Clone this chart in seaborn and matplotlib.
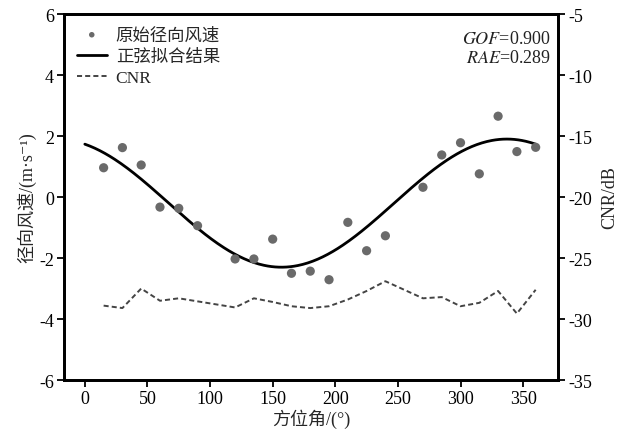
import numpy as np
import pandas as pd
import matplotlib
matplotlib.use("Agg")
import matplotlib.pyplot as plt
import seaborn as sns

# ---- data ----
azimuth = [15, 30, 45, 60, 75, 90, 120, 135, 150, 165, 180, 195, 210, 225, 240,
           270, 285, 300, 315, 330, 345, 360]
radial_speed = [0.96, 1.62, 1.05, -0.33, -0.37, -0.94, -2.03, -2.03, -1.38, -2.50,
                -2.43, -2.71, -0.83, -1.76, -1.27, 0.32, 1.38, 1.78, 0.76, 2.65,
                1.49, 1.63]
cnr = [-28.9, -29.1, -27.5, -28.5, -28.3, -28.55, -29.05, -28.3, -28.6, -28.95,
       -29.1, -28.95, -28.4, -27.7, -26.9, -28.3, -28.2, -28.95, -28.67, -27.7,
       -29.55, -27.6]
# sine-fit result: amplitude, azimuth of maximum, offset
fit_amplitude = 2.1
fit_peak_azimuth = 337.0
fit_offset = -0.2
gof_text = "0.900"
rae_text = "0.289"
x_ticks = [0, 50, 100, 150, 200, 250, 300, 350]
y_ticks = [-6, -4, -2, 0, 2, 4, 6]
cnr_ticks = [-35, -30, -25, -20, -15, -10, -5]

fit_x = np.linspace(0, 360, 361)
fit_y = fit_amplitude * np.cos(np.deg2rad(fit_x - fit_peak_azimuth)) + fit_offset

df = pd.DataFrame({"az": azimuth, "v": radial_speed, "cnr": cnr})
fit_df = pd.DataFrame({"az": fit_x, "v": fit_y})

sns.set_theme(style="white")
plt.rcParams["font.family"] = ["Liberation Serif", "Noto Sans CJK SC", "DejaVu Sans"]
plt.rcParams["mathtext.fontset"] = "stix"
plt.rcParams["axes.unicode_minus"] = False

fig = plt.figure(figsize=(6.23, 4.35), dpi=100)
ax = fig.add_axes([0.102, 0.124, 0.794, 0.8415])
ax2 = ax.twinx()

dash = (0, (2.6, 1.6))
sns.scatterplot(data=df, x="az", y="v", ax=ax, color="#6a6a6a", s=44,
                edgecolor="none", label="原始径向风速", zorder=3)
sns.lineplot(data=fit_df, x="az", y="v", ax=ax, color="black", lw=2,
             label="正弦拟合结果")
sns.lineplot(data=df, x="az", y="cnr", ax=ax2, color="#444444", lw=1.4,
             linestyle=dash, legend=False)
ax.plot([], [], color="#444444", lw=1.4, linestyle=dash, label="CNR")

ax.set_xlim(-17, 378)
ax.set_ylim(-6, 6)
ax2.set_ylim(-35, -5)
ax.set_xticks(x_ticks)
ax.set_yticks(y_ticks)
ax2.set_yticks(cnr_ticks)

for a in (ax, ax2):
    a.tick_params(direction="out", length=5, width=1.3, labelsize=13,
                  colors="black", pad=2)
    for sp in a.spines.values():
        sp.set_linewidth(2)
        sp.set_color("black")
ax.tick_params(axis="x", bottom=True, top=False)
ax.tick_params(axis="y", left=True, right=False)
ax2.tick_params(axis="y", right=True, left=False)

ax.set_xlabel("方位角/(°)", fontsize=13, labelpad=1)
ax.set_ylabel("径向风速/(m·s⁻¹)", fontsize=13, labelpad=2)
ax2.set_ylabel("CNR/dB", fontsize=13, labelpad=7)

leg = ax.legend(loc="upper left", frameon=False, fontsize=12.5,
                handlelength=1.75, borderaxespad=0.35, labelspacing=0.3,
                handletextpad=0.5, markerscale=0.6, bbox_to_anchor=(0.0, 1.0))

ax.text(0.985, 0.932, r"$\it{GOF}$=" + gof_text, transform=ax.transAxes,
        ha="right", va="center", fontsize=13, color="#222222")
ax.text(0.985, 0.882, r"$\it{RAE}$=" + rae_text, transform=ax.transAxes,
        ha="right", va="center", fontsize=13, color="#222222")

fig.savefig("out.png", dpi=100)
